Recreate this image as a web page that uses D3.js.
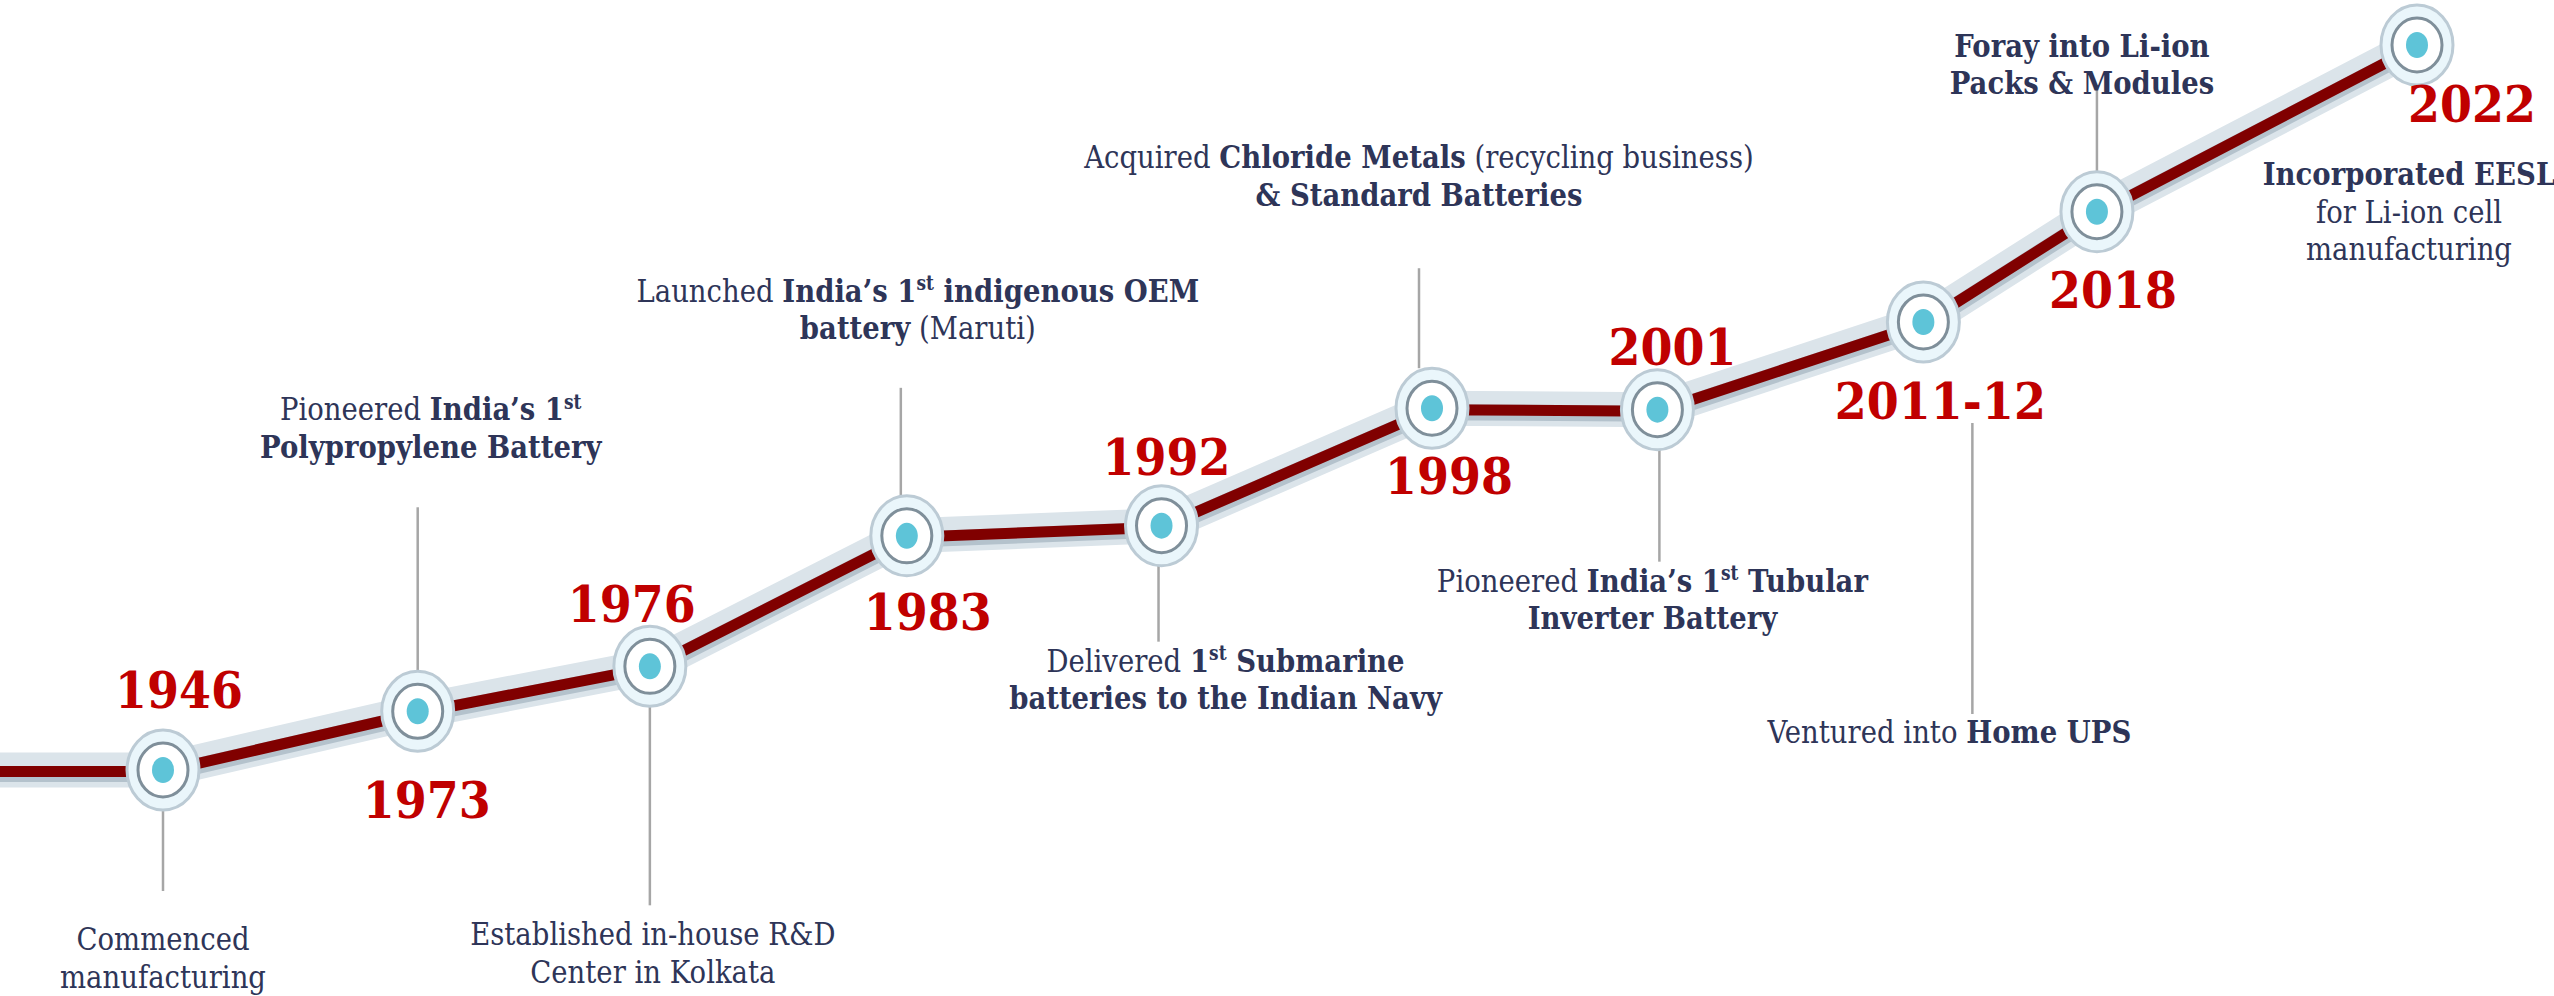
<!DOCTYPE html>
<html>
<head>
<meta charset="utf-8">
<script src="https://cdn.jsdelivr.net/npm/d3@7"></script>
<style>
  html, body { margin: 0; padding: 0; background: #fff; }
  svg { display: block; }
</style>
</head>
<body>
<svg id="chart" width="2554" height="996"></svg>
<script>
// milestones along the timeline
const years = ["1946", "1973", "1976", "1983", "1992", "1998", "2001", "2011-12", "2018", "2022"];
// position along the run (0 = first milestone, 100 = last)
const progress = [0, 11.3, 21.6, 33.0, 44.3, 56.3, 66.3, 78.1, 85.8, 100];
// how high the step sits (0 = first milestone, 100 = last)
const level = [0, 8.1, 14.3, 32.3, 33.7, 49.9, 49.7, 61.8, 77.0, 100];
// "**" toggles bold, ^st^ is superscript
const captions = [
    ["Commenced", "manufacturing"],
    ["Pioneered **India\u2019s 1^st^**", "**Polypropylene Battery**"],
    ["Established in-house R&D", "Center in Kolkata"],
    ["Launched **India\u2019s 1^st^ indigenous OEM**", "**battery** (Maruti)"],
    ["Delivered **1^st^ Submarine**", "**batteries to the Indian Navy**"],
    ["Acquired **Chloride Metals** (recycling business)", "**& Standard Batteries**"],
    ["Pioneered **India\u2019s 1^st^ Tubular**", "**Inverter Battery**"],
    ["Ventured into **Home UPS**"],
    ["**Foray into Li-ion**", "**Packs & Modules**"],
    ["**Incorporated EESL**", "for Li-ion cell", "manufacturing"]
];

// label placement relative to each node (layout only)
const place = [
    {yx: 16, yy: -62, cx: 0, cy: 180, lx: 0, l0: 40, l1: 121},
    {yx: 9, yy: 107, cx: 13, cy: -291, lx: 0, l0: -204, l1: -40},
    {yx: -18, yy: -44, cx: 3, cy: 279, lx: 0, l0: 40, l1: 239},
    {yx: 21, yy: 94, cx: 11, cy: -234, lx: -6, l0: -148, l1: -40},
    {yx: 5, yy: -51, cx: 64, cy: 146, lx: -3, l0: 40, l1: 116},
    {yx: 17, yy: 86, cx: -13, cy: -240, lx: -13, l0: -140, l1: -40},
    {yx: 15, yy: -45, cx: -5, cy: 182, lx: 2, l0: 40, l1: 152},
    {yx: 17, yy: 97, cx: 26, cy: 421, lx: 49, l0: 101, l1: 392},
    {yx: 16, yy: 96, cx: -15, cy: -155, lx: 0, l0: -124, l1: -40},
    {yx: 55, yy: 77, cx: -8, cy: 140, lx: 0, l0: 0, l1: 0}
];

const svg = d3.select("#chart");
const x = d3.scaleLinear().domain([0, 100]).range([163, 2417]);
const y = d3.scaleLinear().domain([0, 100]).range([770, 45]);

const pts = years.map((d, i) => [x(progress[i]), y(level[i])]);
pts.unshift([0, y(level[0])]);
const line = d3.line();

// the track: pale band, shadow, maroon core
const track = svg.append("g");
track.append("path").attr("d", line(pts))
    .attr("fill", "none").attr("stroke", "#dbe4ea").attr("stroke-width", 35);
track.append("path").attr("d", line(pts)).attr("transform", "translate(0,4)")
    .attr("fill", "none").attr("stroke", "#b4c2cc").attr("stroke-width", 16);
track.append("path").attr("d", line(pts)).attr("transform", "translate(0,1.5)")
    .attr("fill", "none").attr("stroke", "#800000").attr("stroke-width", 11);

// leader lines
svg.append("g").selectAll("line")
    .data(years.map((d, i) => i).filter(i => place[i].l1 !== place[i].l0))
    .join("line")
    .attr("x1", i => pts[i + 1][0] + place[i].lx)
    .attr("x2", i => pts[i + 1][0] + place[i].lx)
    .attr("y1", i => pts[i + 1][1] + place[i].l0)
    .attr("y2", i => pts[i + 1][1] + place[i].l1)
    .attr("stroke", "#a6a6a6").attr("stroke-width", 2.5);

// nodes
const node = svg.append("g").selectAll("g")
    .data(pts.slice(1))
    .join("g")
    .attr("transform", d => `translate(${d[0]},${d[1]})`);
node.append("ellipse").attr("rx", 36).attr("ry", 40)
    .attr("fill", "#eaf6fb").attr("stroke", "#bccbd5").attr("stroke-width", 3);
node.append("ellipse").attr("rx", 25).attr("ry", 27)
    .attr("fill", "#fff").attr("stroke", "#7f8f9a").attr("stroke-width", 3);
node.append("ellipse").attr("rx", 11).attr("ry", 13).attr("fill", "#5ec4d8");

// year labels
svg.append("g").selectAll("text")
    .data(years)
    .join("text")
    .attr("transform", (d, i) => `translate(${pts[i + 1][0] + place[i].yx},${pts[i + 1][1] + place[i].yy}) scale(0.92,1)`)
    .attr("text-anchor", "middle")
    .attr("font-family", "'DejaVu Serif', serif")
    .attr("font-weight", "bold")
    .attr("font-size", 50)
    .attr("fill", "#c00000")
    .text(d => d);

// captions
const fs = 32, lh = 37.5;
const capG = svg.append("g")
    .attr("font-family", "'DejaVu Serif', serif")
    .attr("font-size", fs)
    .attr("fill", "#2e3558");

captions.forEach((lines, i) => {
    lines.forEach((str, j) => {
        const t = capG.append("text")
            .attr("text-anchor", "middle")
            .attr("transform", `translate(${pts[i + 1][0] + place[i].cx},${pts[i + 1][1] + place[i].cy + j * lh}) scale(0.86,1)`);
        let bold = false, lift = 0;
        str.split(/(\*\*|\^[^^]+\^)/).forEach(tok => {
            if (tok === "**") { bold = !bold; return; }
            if (!tok) return;
            const sup = tok.startsWith("^");
            const s = t.append("tspan")
                .attr("font-weight", bold ? "bold" : "normal")
                .text(sup ? tok.slice(1, -1) : tok);
            if (sup) {
                s.attr("font-size", fs * 0.62).attr("dy", -fs * 0.36);
                lift = fs * 0.36;
            } else if (lift) {
                s.attr("dy", lift);
                lift = 0;
            }
        });
    });
});
</script>
</body>
</html>
